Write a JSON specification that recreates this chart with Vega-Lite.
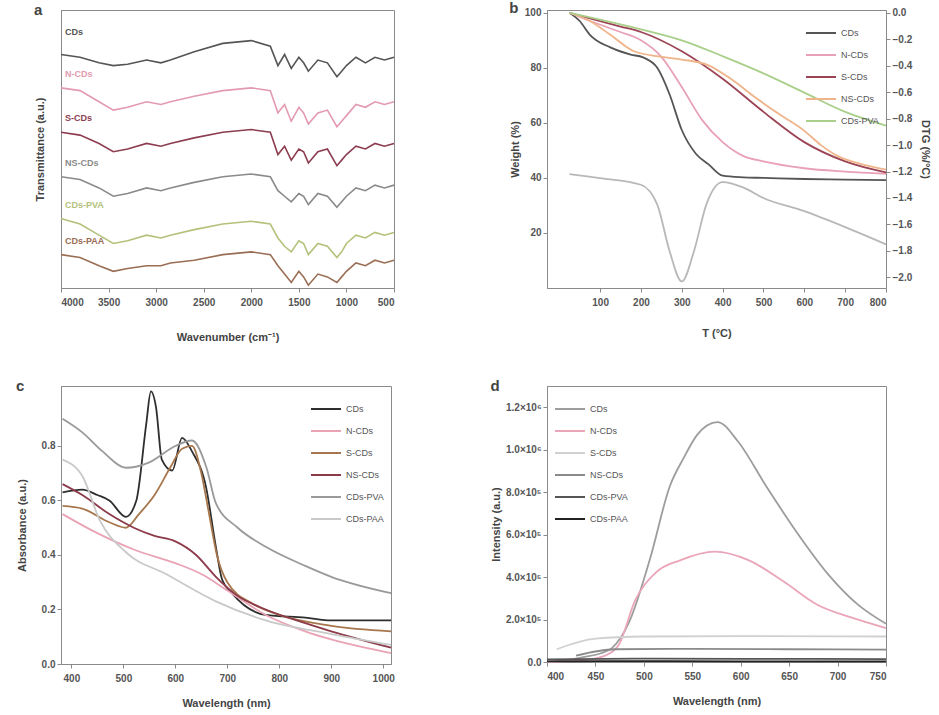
{
  "$schema": "https://vega.github.io/schema/vega-lite/v6.json",
  "padding": {"left": 15, "top": 0, "right": 0, "bottom": 0},
  "background": "white",
  "config": {
    "font": "Liberation Sans",
    "view": {"stroke": "#8a8a8a", "strokeWidth": 1},
    "axis": {"labelFontSize": 10, "labelFontWeight": "bold", "titleFontSize": 11, "titleFontWeight": "bold", "labelColor": "#555", "titleColor": "#444", "domainColor": "#8a8a8a", "tickColor": "#8a8a8a", "grid": false, "tickSize": 4},
    "axisX": {"labelPadding": 5, "titlePadding": 14},
    "legend": {"labelFontSize": 9, "symbolType": "stroke", "symbolStrokeWidth": 2, "symbolSize": 900, "padding": 3, "rowPadding": 1, "labelColor": "#555", "offset": 4},
    "title": {"fontSize": 15, "fontWeight": "bold", "anchor": "start", "frame": "bounds", "color": "#444", "offset": -8}
  },
  "datasets": {
    "ftir": [
      {"s":"CDs","w":4000,"t":84},{"s":"CDs","w":3800,"t":83},{"s":"CDs","w":3600,"t":81},{"s":"CDs","w":3450,"t":80},{"s":"CDs","w":3300,"t":80.5},{"s":"CDs","w":3100,"t":82},{"s":"CDs","w":2950,"t":81},{"s":"CDs","w":2850,"t":82},{"s":"CDs","w":2600,"t":85},{"s":"CDs","w":2300,"t":88},{"s":"CDs","w":2000,"t":89},{"s":"CDs","w":1800,"t":87},{"s":"CDs","w":1720,"t":80},{"s":"CDs","w":1650,"t":84},{"s":"CDs","w":1580,"t":79},{"s":"CDs","w":1500,"t":83},{"s":"CDs","w":1450,"t":81},{"s":"CDs","w":1400,"t":78},{"s":"CDs","w":1300,"t":82},{"s":"CDs","w":1200,"t":81},{"s":"CDs","w":1100,"t":76},{"s":"CDs","w":1050,"t":78},{"s":"CDs","w":1000,"t":80},{"s":"CDs","w":900,"t":83},{"s":"CDs","w":800,"t":81},{"s":"CDs","w":700,"t":83},{"s":"CDs","w":600,"t":82},{"s":"CDs","w":500,"t":83},
      {"s":"N-CDs","w":4000,"t":72},{"s":"N-CDs","w":3800,"t":71},{"s":"N-CDs","w":3600,"t":67},{"s":"N-CDs","w":3450,"t":64},{"s":"N-CDs","w":3300,"t":65},{"s":"N-CDs","w":3100,"t":67},{"s":"N-CDs","w":2950,"t":66},{"s":"N-CDs","w":2850,"t":67},{"s":"N-CDs","w":2600,"t":69},{"s":"N-CDs","w":2300,"t":71},{"s":"N-CDs","w":2000,"t":72},{"s":"N-CDs","w":1800,"t":71},{"s":"N-CDs","w":1720,"t":63},{"s":"N-CDs","w":1650,"t":66},{"s":"N-CDs","w":1580,"t":60},{"s":"N-CDs","w":1500,"t":65},{"s":"N-CDs","w":1450,"t":63},{"s":"N-CDs","w":1400,"t":59},{"s":"N-CDs","w":1300,"t":63},{"s":"N-CDs","w":1200,"t":64},{"s":"N-CDs","w":1100,"t":58},{"s":"N-CDs","w":1050,"t":60},{"s":"N-CDs","w":1000,"t":62},{"s":"N-CDs","w":900,"t":66},{"s":"N-CDs","w":800,"t":65},{"s":"N-CDs","w":700,"t":67},{"s":"N-CDs","w":600,"t":66},{"s":"N-CDs","w":500,"t":67},
      {"s":"S-CDs","w":4000,"t":56},{"s":"S-CDs","w":3800,"t":55},{"s":"S-CDs","w":3600,"t":52},{"s":"S-CDs","w":3450,"t":49},{"s":"S-CDs","w":3300,"t":50},{"s":"S-CDs","w":3100,"t":52},{"s":"S-CDs","w":2950,"t":51},{"s":"S-CDs","w":2850,"t":52},{"s":"S-CDs","w":2600,"t":54},{"s":"S-CDs","w":2300,"t":56},{"s":"S-CDs","w":2000,"t":57},{"s":"S-CDs","w":1800,"t":56},{"s":"S-CDs","w":1720,"t":48},{"s":"S-CDs","w":1650,"t":51},{"s":"S-CDs","w":1580,"t":46},{"s":"S-CDs","w":1500,"t":50},{"s":"S-CDs","w":1450,"t":49},{"s":"S-CDs","w":1400,"t":45},{"s":"S-CDs","w":1300,"t":49},{"s":"S-CDs","w":1200,"t":50},{"s":"S-CDs","w":1100,"t":44},{"s":"S-CDs","w":1050,"t":46},{"s":"S-CDs","w":1000,"t":48},{"s":"S-CDs","w":900,"t":51},{"s":"S-CDs","w":800,"t":50},{"s":"S-CDs","w":700,"t":52},{"s":"S-CDs","w":600,"t":51},{"s":"S-CDs","w":500,"t":52},
      {"s":"NS-CDs","w":4000,"t":40},{"s":"NS-CDs","w":3800,"t":39},{"s":"NS-CDs","w":3600,"t":36},{"s":"NS-CDs","w":3450,"t":33},{"s":"NS-CDs","w":3300,"t":34},{"s":"NS-CDs","w":3100,"t":36},{"s":"NS-CDs","w":2950,"t":35},{"s":"NS-CDs","w":2850,"t":36},{"s":"NS-CDs","w":2600,"t":38},{"s":"NS-CDs","w":2300,"t":40},{"s":"NS-CDs","w":2000,"t":41},{"s":"NS-CDs","w":1800,"t":40},{"s":"NS-CDs","w":1720,"t":35},{"s":"NS-CDs","w":1650,"t":33},{"s":"NS-CDs","w":1580,"t":31},{"s":"NS-CDs","w":1500,"t":34},{"s":"NS-CDs","w":1450,"t":33},{"s":"NS-CDs","w":1400,"t":30},{"s":"NS-CDs","w":1300,"t":34},{"s":"NS-CDs","w":1200,"t":33},{"s":"NS-CDs","w":1100,"t":29},{"s":"NS-CDs","w":1050,"t":31},{"s":"NS-CDs","w":1000,"t":33},{"s":"NS-CDs","w":900,"t":36},{"s":"NS-CDs","w":800,"t":35},{"s":"NS-CDs","w":700,"t":37},{"s":"NS-CDs","w":600,"t":36},{"s":"NS-CDs","w":500,"t":37},
      {"s":"CDs-PVA","w":4000,"t":25},{"s":"CDs-PVA","w":3800,"t":23},{"s":"CDs-PVA","w":3600,"t":19},{"s":"CDs-PVA","w":3450,"t":16},{"s":"CDs-PVA","w":3300,"t":17},{"s":"CDs-PVA","w":3100,"t":19},{"s":"CDs-PVA","w":2950,"t":18},{"s":"CDs-PVA","w":2850,"t":19},{"s":"CDs-PVA","w":2600,"t":21},{"s":"CDs-PVA","w":2300,"t":23},{"s":"CDs-PVA","w":2000,"t":24},{"s":"CDs-PVA","w":1800,"t":23},{"s":"CDs-PVA","w":1720,"t":18},{"s":"CDs-PVA","w":1650,"t":15},{"s":"CDs-PVA","w":1580,"t":13},{"s":"CDs-PVA","w":1500,"t":17},{"s":"CDs-PVA","w":1450,"t":16},{"s":"CDs-PVA","w":1400,"t":12},{"s":"CDs-PVA","w":1300,"t":16},{"s":"CDs-PVA","w":1200,"t":15},{"s":"CDs-PVA","w":1100,"t":11},{"s":"CDs-PVA","w":1050,"t":13},{"s":"CDs-PVA","w":1000,"t":16},{"s":"CDs-PVA","w":900,"t":19},{"s":"CDs-PVA","w":800,"t":18},{"s":"CDs-PVA","w":700,"t":20},{"s":"CDs-PVA","w":600,"t":19},{"s":"CDs-PVA","w":500,"t":20},
      {"s":"CDs-PAA","w":4000,"t":12},{"s":"CDs-PAA","w":3800,"t":11},{"s":"CDs-PAA","w":3600,"t":8},{"s":"CDs-PAA","w":3450,"t":6},{"s":"CDs-PAA","w":3300,"t":7},{"s":"CDs-PAA","w":3100,"t":8},{"s":"CDs-PAA","w":2950,"t":8},{"s":"CDs-PAA","w":2850,"t":9},{"s":"CDs-PAA","w":2600,"t":10},{"s":"CDs-PAA","w":2300,"t":12},{"s":"CDs-PAA","w":2000,"t":13},{"s":"CDs-PAA","w":1800,"t":12},{"s":"CDs-PAA","w":1720,"t":8},{"s":"CDs-PAA","w":1650,"t":5},{"s":"CDs-PAA","w":1580,"t":2},{"s":"CDs-PAA","w":1500,"t":6},{"s":"CDs-PAA","w":1450,"t":4},{"s":"CDs-PAA","w":1400,"t":1},{"s":"CDs-PAA","w":1300,"t":5},{"s":"CDs-PAA","w":1200,"t":4},{"s":"CDs-PAA","w":1100,"t":2},{"s":"CDs-PAA","w":1050,"t":4},{"s":"CDs-PAA","w":1000,"t":6},{"s":"CDs-PAA","w":900,"t":9},{"s":"CDs-PAA","w":800,"t":8},{"s":"CDs-PAA","w":700,"t":10},{"s":"CDs-PAA","w":600,"t":9},{"s":"CDs-PAA","w":500,"t":10}
    ],
    "ftirLab": [
      {"s":"CDs","w":3980,"t":92},{"s":"N-CDs","w":3980,"t":77},{"s":"S-CDs","w":3980,"t":61},{"s":"NS-CDs","w":3980,"t":45},{"s":"CDs-PVA","w":3980,"t":30},{"s":"CDs-PAA","w":3980,"t":17}
    ],
    "tga": [
      {"s":"CDs","T":25,"W":100},{"s":"CDs","T":50,"W":97},{"s":"CDs","T":75,"W":92},{"s":"CDs","T":125,"W":87.4},{"s":"CDs","T":175,"W":84.8},{"s":"CDs","T":205,"W":83.8},{"s":"CDs","T":240,"W":80},{"s":"CDs","T":270,"W":70.4},{"s":"CDs","T":300,"W":57.4},{"s":"CDs","T":335,"W":48.7},{"s":"CDs","T":365,"W":45},{"s":"CDs","T":400,"W":40.8},{"s":"CDs","T":450,"W":40.2},{"s":"CDs","T":500,"W":40},{"s":"CDs","T":600,"W":39.6},{"s":"CDs","T":700,"W":39.4},{"s":"CDs","T":800,"W":39.2},
      {"s":"N-CDs","T":25,"W":100},{"s":"N-CDs","T":75,"W":97},{"s":"N-CDs","T":150,"W":93},{"s":"N-CDs","T":200,"W":90},{"s":"N-CDs","T":250,"W":84},{"s":"N-CDs","T":300,"W":73},{"s":"N-CDs","T":350,"W":61},{"s":"N-CDs","T":400,"W":53},{"s":"N-CDs","T":450,"W":48},{"s":"N-CDs","T":500,"W":46},{"s":"N-CDs","T":600,"W":43.5},{"s":"N-CDs","T":700,"W":42.3},{"s":"N-CDs","T":800,"W":41.5},
      {"s":"S-CDs","T":25,"W":100},{"s":"S-CDs","T":75,"W":98},{"s":"S-CDs","T":150,"W":95},{"s":"S-CDs","T":200,"W":93},{"s":"S-CDs","T":300,"W":86},{"s":"S-CDs","T":400,"W":76},{"s":"S-CDs","T":500,"W":64},{"s":"S-CDs","T":600,"W":53},{"s":"S-CDs","T":700,"W":46},{"s":"S-CDs","T":800,"W":42},
      {"s":"NS-CDs","T":25,"W":100},{"s":"NS-CDs","T":75,"W":97},{"s":"NS-CDs","T":125,"W":92},{"s":"NS-CDs","T":183,"W":86},{"s":"NS-CDs","T":250,"W":84},{"s":"NS-CDs","T":300,"W":83},{"s":"NS-CDs","T":364,"W":81},{"s":"NS-CDs","T":420,"W":76},{"s":"NS-CDs","T":482,"W":69},{"s":"NS-CDs","T":540,"W":63},{"s":"NS-CDs","T":601,"W":57},{"s":"NS-CDs","T":640,"W":52},{"s":"NS-CDs","T":681,"W":48},{"s":"NS-CDs","T":740,"W":45},{"s":"NS-CDs","T":800,"W":43},
      {"s":"CDs-PVA","T":25,"W":100},{"s":"CDs-PVA","T":100,"W":97.5},{"s":"CDs-PVA","T":200,"W":94},{"s":"CDs-PVA","T":300,"W":90},{"s":"CDs-PVA","T":404,"W":84},{"s":"CDs-PVA","T":500,"W":78},{"s":"CDs-PVA","T":600,"W":71},{"s":"CDs-PVA","T":700,"W":64},{"s":"CDs-PVA","T":800,"W":59}
    ],
    "dtg": [
      {"T":25,"D":-1.22},{"T":100,"D":-1.25},{"T":200,"D":-1.3},{"T":240,"D":-1.45},{"T":270,"D":-1.8},{"T":300,"D":-2.03},{"T":330,"D":-1.8},{"T":360,"D":-1.45},{"T":400,"D":-1.28},{"T":450,"D":-1.32},{"T":500,"D":-1.4},{"T":600,"D":-1.5},{"T":700,"D":-1.62},{"T":800,"D":-1.75}
    ],
    "uv": [
      {"s":"CDs","l":383,"a":0.63},{"s":"CDs","l":421,"a":0.64},{"s":"CDs","l":450,"a":0.62},{"s":"CDs","l":473,"a":0.6},{"s":"CDs","l":505,"a":0.54},{"s":"CDs","l":525,"a":0.6},{"s":"CDs","l":544,"a":0.88},{"s":"CDs","l":553,"a":1.0},{"s":"CDs","l":563,"a":0.94},{"s":"CDs","l":574,"a":0.75},{"s":"CDs","l":594,"a":0.71},{"s":"CDs","l":613,"a":0.83},{"s":"CDs","l":632,"a":0.78},{"s":"CDs","l":659,"a":0.65},{"s":"CDs","l":678,"a":0.43},{"s":"CDs","l":690,"a":0.31},{"s":"CDs","l":709,"a":0.26},{"s":"CDs","l":774,"a":0.18},{"s":"CDs","l":850,"a":0.17},{"s":"CDs","l":900,"a":0.16},{"s":"CDs","l":1015,"a":0.16},
      {"s":"N-CDs","l":383,"a":0.55},{"s":"N-CDs","l":450,"a":0.48},{"s":"N-CDs","l":520,"a":0.42},{"s":"N-CDs","l":600,"a":0.37},{"s":"N-CDs","l":650,"a":0.33},{"s":"N-CDs","l":700,"a":0.27},{"s":"N-CDs","l":774,"a":0.18},{"s":"N-CDs","l":850,"a":0.12},{"s":"N-CDs","l":900,"a":0.09},{"s":"N-CDs","l":1015,"a":0.04},
      {"s":"S-CDs","l":383,"a":0.58},{"s":"S-CDs","l":421,"a":0.57},{"s":"S-CDs","l":473,"a":0.52},{"s":"S-CDs","l":505,"a":0.5},{"s":"S-CDs","l":530,"a":0.55},{"s":"S-CDs","l":560,"a":0.62},{"s":"S-CDs","l":590,"a":0.72},{"s":"S-CDs","l":613,"a":0.79},{"s":"S-CDs","l":632,"a":0.8},{"s":"S-CDs","l":650,"a":0.7},{"s":"S-CDs","l":665,"a":0.55},{"s":"S-CDs","l":680,"a":0.4},{"s":"S-CDs","l":700,"a":0.3},{"s":"S-CDs","l":750,"a":0.22},{"s":"S-CDs","l":800,"a":0.18},{"s":"S-CDs","l":900,"a":0.14},{"s":"S-CDs","l":1015,"a":0.12},
      {"s":"NS-CDs","l":383,"a":0.66},{"s":"NS-CDs","l":421,"a":0.62},{"s":"NS-CDs","l":473,"a":0.55},{"s":"NS-CDs","l":520,"a":0.5},{"s":"NS-CDs","l":560,"a":0.47},{"s":"NS-CDs","l":600,"a":0.45},{"s":"NS-CDs","l":640,"a":0.4},{"s":"NS-CDs","l":678,"a":0.32},{"s":"NS-CDs","l":720,"a":0.25},{"s":"NS-CDs","l":774,"a":0.2},{"s":"NS-CDs","l":850,"a":0.15},{"s":"NS-CDs","l":900,"a":0.12},{"s":"NS-CDs","l":1015,"a":0.06},
      {"s":"CDs-PVA","l":383,"a":0.9},{"s":"CDs-PVA","l":421,"a":0.85},{"s":"CDs-PVA","l":460,"a":0.78},{"s":"CDs-PVA","l":505,"a":0.72},{"s":"CDs-PVA","l":550,"a":0.74},{"s":"CDs-PVA","l":600,"a":0.8},{"s":"CDs-PVA","l":632,"a":0.82},{"s":"CDs-PVA","l":660,"a":0.72},{"s":"CDs-PVA","l":678,"a":0.59},{"s":"CDs-PVA","l":720,"a":0.5},{"s":"CDs-PVA","l":774,"a":0.43},{"s":"CDs-PVA","l":850,"a":0.36},{"s":"CDs-PVA","l":900,"a":0.32},{"s":"CDs-PVA","l":1015,"a":0.26},
      {"s":"CDs-PAA","l":383,"a":0.75},{"s":"CDs-PAA","l":421,"a":0.69},{"s":"CDs-PAA","l":454,"a":0.53},{"s":"CDs-PAA","l":505,"a":0.41},{"s":"CDs-PAA","l":582,"a":0.33},{"s":"CDs-PAA","l":678,"a":0.23},{"s":"CDs-PAA","l":774,"a":0.16},{"s":"CDs-PAA","l":900,"a":0.11},{"s":"CDs-PAA","l":1015,"a":0.07}
    ],
    "pl": [
      {"s":"CDs","l":400,"i":0},{"s":"CDs","l":420,"i":8000},{"s":"CDs","l":440,"i":25000},{"s":"CDs","l":455,"i":40000},{"s":"CDs","l":467,"i":65000},{"s":"CDs","l":485,"i":190000},{"s":"CDs","l":506,"i":480000},{"s":"CDs","l":527,"i":830000},{"s":"CDs","l":541,"i":960000},{"s":"CDs","l":555,"i":1070000},{"s":"CDs","l":576,"i":1130000},{"s":"CDs","l":597,"i":1040000},{"s":"CDs","l":626,"i":830000},{"s":"CDs","l":658,"i":610000},{"s":"CDs","l":689,"i":420000},{"s":"CDs","l":721,"i":270000},{"s":"CDs","l":750,"i":180000},
      {"s":"N-CDs","l":400,"i":0},{"s":"N-CDs","l":440,"i":10000},{"s":"N-CDs","l":460,"i":30000},{"s":"N-CDs","l":474,"i":80000},{"s":"N-CDs","l":491,"i":290000},{"s":"N-CDs","l":512,"i":420000},{"s":"N-CDs","l":538,"i":480000},{"s":"N-CDs","l":573,"i":520000},{"s":"N-CDs","l":608,"i":480000},{"s":"N-CDs","l":644,"i":380000},{"s":"N-CDs","l":679,"i":270000},{"s":"N-CDs","l":714,"i":210000},{"s":"N-CDs","l":750,"i":160000},
      {"s":"S-CDs","l":410,"i":60000},{"s":"S-CDs","l":450,"i":110000},{"s":"S-CDs","l":500,"i":120000},{"s":"S-CDs","l":600,"i":122000},{"s":"S-CDs","l":700,"i":121000},{"s":"S-CDs","l":750,"i":120000},
      {"s":"NS-CDs","l":430,"i":30000},{"s":"NS-CDs","l":470,"i":60000},{"s":"NS-CDs","l":550,"i":62000},{"s":"NS-CDs","l":650,"i":60000},{"s":"NS-CDs","l":750,"i":58000},
      {"s":"CDs-PVA","l":400,"i":12000},{"s":"CDs-PVA","l":500,"i":16000},{"s":"CDs-PVA","l":600,"i":15000},{"s":"CDs-PVA","l":750,"i":14000},
      {"s":"CDs-PAA","l":400,"i":3000},{"s":"CDs-PAA","l":500,"i":4000},{"s":"CDs-PAA","l":600,"i":3000},{"s":"CDs-PAA","l":750,"i":3000}
    ]
  },
  "columns": 2,
  "spacing": {"row": 35, "column": 91},
  "resolve": {"scale": {"color": "independent"}, "legend": {"color": "independent"}},
  "concat": [
    {
      "width": 333, "height": 278,
      "title": {"text": "a"},
      "layer": [
        {
          "data": {"name": "ftir"},
          "mark": {"type": "line", "strokeWidth": 1.6},
          "encoding": {
            "x": {"field": "w", "type": "quantitative", "scale": {"domain": [500, 4000], "reverse": true, "nice": false}, "axis": {"values": [4000, 3500, 3000, 2500, 2000, 1500, 1000, 500], "format": "d", "title": "Wavenumber (cm⁻¹)", "titlePadding": 24}},
            "y": {"field": "t", "type": "quantitative", "scale": {"domain": [0, 100], "nice": false}, "axis": {"labels": false, "ticks": false, "title": "Transmittance (a.u.)", "titlePadding": 16}},
            "color": {"field": "s", "type": "nominal", "scale": {"domain": ["CDs", "N-CDs", "S-CDs", "NS-CDs", "CDs-PVA", "CDs-PAA"], "range": ["#555555", "#e39ab0", "#8c3d50", "#8a8a8a", "#b3c27a", "#9a6e55"]}, "legend": null}
          }
        },
        {
          "data": {"name": "ftirLab"},
          "mark": {"type": "text", "align": "left", "fontSize": 9, "fontWeight": "bold", "dx": 2},
          "encoding": {
            "x": {"field": "w", "type": "quantitative"},
            "y": {"field": "t", "type": "quantitative"},
            "text": {"field": "s"},
            "color": {"field": "s", "type": "nominal", "legend": null}
          }
        }
      ]
    },
    {
      "width": 339, "height": 278,
      "title": {"text": "b"},
      "layer": [
        {
          "data": {"name": "tga"},
          "mark": {"type": "line", "strokeWidth": 1.8, "interpolate": "monotone"},
          "encoding": {
            "x": {"field": "T", "type": "quantitative", "scale": {"domain": [-30, 800], "nice": false}, "axis": {"values": [100, 200, 300, 400, 500, 600, 700, 800], "title": "T (°C)", "titlePadding": 20}},
            "y": {"field": "W", "type": "quantitative", "scale": {"domain": [0, 101], "nice": false}, "axis": {"values": [20, 40, 60, 80, 100], "title": "Weight (%)"}},
            "color": {"field": "s", "type": "nominal", "scale": {"domain": ["CDs", "N-CDs", "S-CDs", "NS-CDs", "CDs-PVA"], "range": ["#555555", "#e8a1b6", "#9c4456", "#f0b48a", "#a9cf8a"]}, "legend": {"orient": "top-right", "title": null}}
          }
        },
        {
          "data": {"name": "dtg"},
          "mark": {"type": "line", "strokeWidth": 1.8, "color": "#b8b8b8", "interpolate": "monotone"},
          "encoding": {
            "x": {"field": "T", "type": "quantitative"},
            "y": {"field": "D", "type": "quantitative", "scale": {"domain": [-2.08, 0.02], "nice": false}, "axis": {"orient": "right", "values": [0, -0.2, -0.4, -0.6, -0.8, -1.0, -1.2, -1.4, -1.6, -1.8, -2.0], "format": ".1f", "title": "DTG (%/°C)", "titlePadding": 8}}
          }
        }
      ],
      "resolve": {"scale": {"y": "independent"}}
    },
    {
      "width": 330, "height": 278,
      "title": {"text": "c"},
      "mark": {"type": "line", "strokeWidth": 1.8, "interpolate": "monotone"},
      "data": {"name": "uv"},
      "encoding": {
        "x": {"field": "l", "type": "quantitative", "scale": {"domain": [380, 1015], "nice": false}, "axis": {"values": [400, 500, 600, 700, 800, 900, 1000], "format": "d", "title": "Wavelength (nm)"}},
        "y": {"field": "a", "type": "quantitative", "scale": {"domain": [0, 1.02], "nice": false}, "axis": {"values": [0, 0.2, 0.4, 0.6, 0.8], "format": ".1f", "title": "Absorbance (a.u.)", "titlePadding": 14}},
        "color": {"field": "s", "type": "nominal", "scale": {"domain": ["CDs", "N-CDs", "S-CDs", "NS-CDs", "CDs-PVA", "CDs-PAA"], "range": ["#2e2e2e", "#e9a3b5", "#a8764c", "#8c3a4a", "#9a9a9a", "#c9c9c9"]}, "legend": {"orient": "top-right", "title": null}}
      }
    },
    {
      "width": 339, "height": 276,
      "title": {"text": "d"},
      "mark": {"type": "line", "strokeWidth": 1.8, "interpolate": "monotone"},
      "data": {"name": "pl"},
      "encoding": {
        "x": {"field": "l", "type": "quantitative", "scale": {"domain": [400, 750], "nice": false}, "axis": {"values": [400, 450, 500, 550, 600, 650, 700, 750], "title": "Wavelength (nm)"}},
        "y": {"field": "i", "type": "quantitative", "scale": {"domain": [0, 1300000], "nice": false}, "axis": {"values": [0, 200000, 400000, 600000, 800000, 1000000, 1200000], "labelExpr": "datum.value == 0 ? '0.0' : (datum.value >= 1000000 ? format(datum.value/1000000, '.1f') + '×10⁶' : format(datum.value/100000, '.1f') + '×10⁵')", "title": "Intensity (a.u.)"}},
        "color": {"field": "s", "type": "nominal", "scale": {"domain": ["CDs", "N-CDs", "S-CDs", "NS-CDs", "CDs-PVA", "CDs-PAA"], "range": ["#9d9d9d", "#eaa5b8", "#d0d0d0", "#8a8a8a", "#555555", "#222222"]}, "legend": {"orient": "top-left", "title": null}}
      }
    }
  ]
}
